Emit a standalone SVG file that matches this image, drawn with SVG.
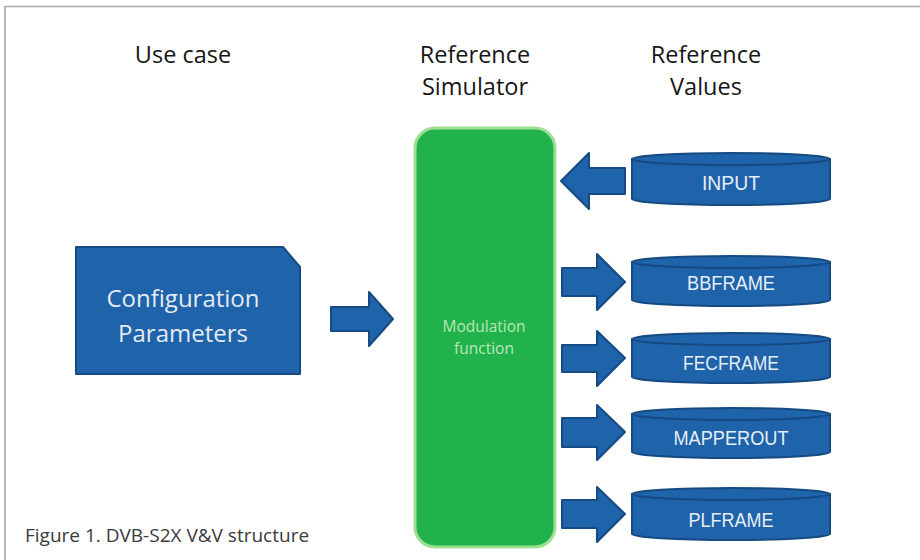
<svg xmlns="http://www.w3.org/2000/svg" width="920" height="560" viewBox="0 0 920 560">
  <style>
    .hdr { font-family: "Open Sans", "Noto Sans", sans-serif; font-size: 23.5px; fill: #161616; text-anchor: middle; }
    .cap { font-family: "Open Sans", "Noto Sans", sans-serif; font-size: 19px; fill: #3a3a3a; }
    .blue { fill: #1f63aa; stroke: #154a82; stroke-width: 2; stroke-linejoin: round; }
    .db-top { fill: #1f63aa; stroke: #154a82; stroke-width: 2; }
    .db-label { font-family: "Liberation Sans", Arial, sans-serif; font-size: 20px; fill: #e6eef7; text-anchor: middle; }
    .cfg-label { font-family: "Open Sans", "Noto Sans", sans-serif; font-size: 24px; fill: #e3ebf4; text-anchor: middle; }
    .sim-label { font-family: "Open Sans", "Noto Sans", sans-serif; font-size: 15.5px; fill: #b9e8b4; text-anchor: middle; }
  </style>

  <!-- frame -->
  <rect x="0" y="0" width="920" height="560" fill="#ffffff"/>
  <path d="M5,560 V6.5 H920" fill="none" stroke="#a8a8a8" stroke-width="1.6"/>

  <!-- column headings -->
  <g id="headings">
    <text class="hdr" x="183" y="63">Use case</text>
    <text class="hdr" x="475" y="63">Reference</text>
    <text class="hdr" x="475" y="95">Simulator</text>
    <text class="hdr" x="706" y="63">Reference</text>
    <text class="hdr" x="706" y="95">Values</text>
  </g>

  <!-- use case -->
  <g id="config">
    <path class="blue" d="M76,247 H283 L300,267 V374 H76 Z"/>
    <text class="cfg-label" x="183" y="307">Configuration</text>
    <text class="cfg-label" x="183" y="342">Parameters</text>
  </g>

  <!-- simulator -->
  <g id="simulator">
    <rect x="415" y="128" width="140" height="419" rx="20" ry="20" fill="#22b24c" stroke="#9fdf92" stroke-width="3"/>
    <text class="sim-label" x="484" y="332">Modulation</text>
    <text class="sim-label" x="484" y="354">function</text>
  </g>

  <!-- reference value stores -->
  <g id="db-input">
    <path class="blue" d="M632,159 V199 A99,6 0 0 0 830,199 V159 Z"/>
    <ellipse class="db-top" cx="731" cy="159" rx="99" ry="6"/>
    <text class="db-label" x="731" y="190" textLength="58" lengthAdjust="spacingAndGlyphs">INPUT</text>
  </g>
  <g id="db-bbframe">
    <path class="blue" d="M632,262 V300 A99,6 0 0 0 830,300 V262 Z"/>
    <ellipse class="db-top" cx="731" cy="262" rx="99" ry="6"/>
    <text class="db-label" x="731" y="290" textLength="88" lengthAdjust="spacingAndGlyphs">BBFRAME</text>
  </g>
  <g id="db-fecframe">
    <path class="blue" d="M632,339 V377 A99,6 0 0 0 830,377 V339 Z"/>
    <ellipse class="db-top" cx="731" cy="339" rx="99" ry="6"/>
    <text class="db-label" x="731" y="370" textLength="96" lengthAdjust="spacingAndGlyphs">FECFRAME</text>
  </g>
  <g id="db-mapperout">
    <path class="blue" d="M632,414 V452 A99,6 0 0 0 830,452 V414 Z"/>
    <ellipse class="db-top" cx="731" cy="414" rx="99" ry="6"/>
    <text class="db-label" x="731" y="445" textLength="115" lengthAdjust="spacingAndGlyphs">MAPPEROUT</text>
  </g>
  <g id="db-plframe">
    <path class="blue" d="M632,494 V534 A99,6 0 0 0 830,534 V494 Z"/>
    <ellipse class="db-top" cx="731" cy="494" rx="99" ry="6"/>
    <text class="db-label" x="731" y="527" textLength="85" lengthAdjust="spacingAndGlyphs">PLFRAME</text>
  </g>

  <!-- block arrows -->
  <g id="connectors">
    <path class="blue" d="M331,307 H369 V292 L393,319 L369,346 V331 H331 Z"/>
    <path class="blue" d="M625,168 H589 V153 L561,181 L589,209 V194 H625 Z"/>
    <path class="blue" d="M562,268 H597 V254 L625,282 L597,310 V296 H562 Z"/>
    <path class="blue" d="M562,345 H597 V331 L625,358 L597,386 V372 H562 Z"/>
    <path class="blue" d="M562,418 H597 V405 L625,432 L597,460 V447 H562 Z"/>
    <path class="blue" d="M562,500 H597 V487 L625,514 L597,542 V528 H562 Z"/>
  </g>

  <!-- caption -->
  <text class="cap" x="25" y="542">Figure 1. DVB-S2X V&amp;V structure</text>
</svg>
